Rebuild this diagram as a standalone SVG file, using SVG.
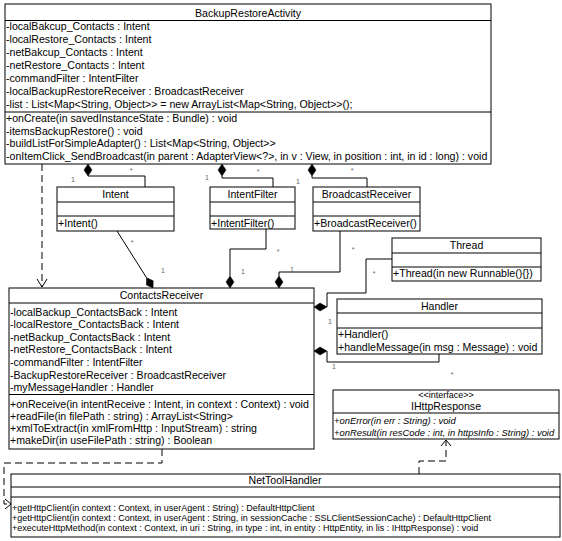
<svg xmlns="http://www.w3.org/2000/svg" width="562" height="541" viewBox="0 0 562 541">
<style>
.box{fill:#fff;stroke:#000;stroke-width:1}
.sep{stroke:#000;stroke-width:1}
.t{font-family:"Liberation Sans",Arial,sans-serif;font-size:10.6px;fill:#000}
.ti{font-family:"Liberation Sans",Arial,sans-serif;font-size:10.6px;fill:#000;text-anchor:middle}
.sm{font-family:"Liberation Sans",Arial,sans-serif;font-size:9px;fill:#000}
.it{font-family:"Liberation Sans",Arial,sans-serif;font-size:9.4px;font-style:italic;fill:#000}
.lb{font-family:"Liberation Sans",Arial,sans-serif;font-size:7px;fill:#666;text-anchor:middle}
.ln{fill:none;stroke:#000;stroke-width:1}
.dash{fill:none;stroke:#000;stroke-width:1;stroke-dasharray:7,4}
.dia{fill:#000;stroke:#000;stroke-width:0.5}
</style>
<rect width="562" height="541" fill="#fff"/>
<g id="connectors">
  <path class="dash" d="M42,164 V287"/>
  <path class="ln" d="M37,279 L42,287 L47,279"/>
  <polygon class="dia" points="88,164 92,170 88,176 84,170"/>
  <path class="ln" d="M88,176 H145 V187"/>
  <polygon class="dia" points="222,164 226,170 222,176 218,170"/>
  <path class="ln" d="M222,176 V178 H273 V187"/>
  <polygon class="dia" points="312,164 316,170 312,176 308,170"/>
  <path class="ln" d="M312,176 V178 H367 V187"/>
  <path class="ln" d="M117,231 L146.6,277.8"/>
  <polygon class="dia" points="153,288 153.2,280.8 146.6,277.8 146.4,285"/>
  <path class="ln" d="M266,229 V249 H230 V276"/>
  <polygon class="dia" points="230,288 234,282 230,276 226,282"/>
  <path class="ln" d="M340,231 V272 H279 V276"/>
  <polygon class="dia" points="279,288 283,282 279,276 275,282"/>
  <path class="ln" d="M392,259 H366 V293 H327 V307"/>
  <polygon class="dia" points="314,307 320,303 327,307 320,311"/>
  <path class="ln" d="M327,351 V362 H439 V354"/>
  <polygon class="dia" points="314,351 320,347 327,351 320,355"/>
  <path class="dash" d="M162,449 V463 H4 V504 H10"/>
  <path class="ln" d="M5,499 L11,504 L5,509"/>
  <path class="dash" d="M419,474 V461 H446 V440"/>
  <path class="ln" d="M441,446 L446,440 L451,446"/>
  <text class="lb" x="73" y="182">1</text>
  <text class="lb" x="131" y="173">*</text>
  <text class="lb" x="207" y="180">1</text>
  <text class="lb" x="258" y="174">*</text>
  <text class="lb" x="298" y="184">1</text>
  <text class="lb" x="352" y="173">*</text>
  <text class="lb" x="132" y="245">*</text>
  <text class="lb" x="163" y="273">1</text>
  <text class="lb" x="278" y="254">*</text>
  <text class="lb" x="243" y="274">1</text>
  <text class="lb" x="353" y="252">*</text>
  <text class="lb" x="292" y="272">1</text>
  <text class="lb" x="374" y="276">*</text>
  <text class="lb" x="330" y="324">1</text>
  <text class="lb" x="334" y="369">1</text>
  <text class="lb" x="452" y="377">*</text>
</g>
<g id="BackupRestoreActivity">
  <rect class="box" x="5" y="4" width="486" height="160"/>
  <line class="sep" x1="5" y1="20.5" x2="491" y2="20.5"/>
  <line class="sep" x1="5" y1="112" x2="491" y2="112"/>
  <text class="ti" x="248" y="17">BackupRestoreActivity</text>
  <text class="t" x="6" y="29.5">-localBakcup_Contacts : Intent</text>
  <text class="t" x="6" y="42.5">-localRestore_Contacts : Intent</text>
  <text class="t" x="6" y="55.5">-netBakcup_Contacts : Intent</text>
  <text class="t" x="6" y="68.5">-netRestore_Contacts : Intent</text>
  <text class="t" x="6" y="81.5">-commandFilter : IntentFilter</text>
  <text class="t" x="6" y="94.5">-localBackupRestoreReceiver : BroadcastReceiver</text>
  <text class="t" x="6" y="107.5">-list : List&lt;Map&lt;String, Object&gt;&gt; = new ArrayList&lt;Map&lt;String, Object&gt;&gt;();</text>
  <text class="t" x="6" y="122">+onCreate(in savedInstanceState : Bundle) : void</text>
  <text class="t" x="6" y="134.5">-itemsBackupRestore() : void</text>
  <text class="t" x="6" y="147">-buildListForSimpleAdapter() : List&lt;Map&lt;String, Object&gt;&gt;</text>
  <text class="t" x="6" y="159.5">-onItemClick_SendBroadcast(in parent : AdapterView&lt;?&gt;, in v : View, in position : int, in id : long) : void</text>
</g>
<g id="Intent">
  <rect class="box" x="57" y="187" width="117" height="44"/>
  <line class="sep" x1="57" y1="202" x2="174" y2="202"/>
  <line class="sep" x1="57" y1="216" x2="174" y2="216"/>
  <text class="ti" x="115.5" y="198">Intent</text>
  <text class="t" x="58" y="227">+Intent()</text>
</g>
<g id="IntentFilter">
  <rect class="box" x="210" y="187" width="85" height="42"/>
  <line class="sep" x1="210" y1="202" x2="295" y2="202"/>
  <line class="sep" x1="210" y1="216" x2="295" y2="216"/>
  <text class="ti" x="252.5" y="198">IntentFilter</text>
  <text class="t" x="211" y="227">+IntentFilter()</text>
</g>
<g id="BroadcastReceiver">
  <rect class="box" x="313" y="187" width="107" height="44"/>
  <line class="sep" x1="313" y1="202" x2="420" y2="202"/>
  <line class="sep" x1="313" y1="216" x2="420" y2="216"/>
  <text class="ti" x="366.5" y="198">BroadcastReceiver</text>
  <text class="t" x="314" y="227">+BroadcastReceiver()</text>
</g>
<g id="Thread">
  <rect class="box" x="392" y="238" width="149" height="43"/>
  <line class="sep" x1="392" y1="253" x2="541" y2="253"/>
  <line class="sep" x1="392" y1="267" x2="541" y2="267"/>
  <text class="ti" x="466.5" y="249">Thread</text>
  <text class="t" x="393" y="277">+Thread(in new Runnable(){})</text>
</g>
<g id="ContactsReceiver">
  <rect class="box" x="9" y="288" width="305" height="161"/>
  <line class="sep" x1="9" y1="303" x2="314" y2="303"/>
  <line class="sep" x1="9" y1="394.5" x2="314" y2="394.5"/>
  <text class="ti" x="161.5" y="299">ContactsReceiver</text>
  <text class="t" x="10" y="315.5">-localBackup_ContactsBack : Intent</text>
  <text class="t" x="10" y="328">-localRestore_ContactsBack : Intent</text>
  <text class="t" x="10" y="340.7">-netBackup_ContactsBack : Intent</text>
  <text class="t" x="10" y="353.3">-netRestore_ContactsBack : Intent</text>
  <text class="t" x="10" y="366">-commandFilter : IntentFilter</text>
  <text class="t" x="10" y="378.5">-BackupRestoreReceiver : BroadcastReceiver</text>
  <text class="t" x="10" y="391">-myMessageHandler : Handler</text>
  <text class="t" x="10" y="408">+onReceive(in intentReceive : Intent, in context : Context) : void</text>
  <text class="t" x="10" y="420">+readFile(in filePath : string) : ArrayList&lt;String&gt;</text>
  <text class="t" x="10" y="432">+xmlToExtract(in xmlFromHttp : InputStream) : string</text>
  <text class="t" x="10" y="444">+makeDir(in useFilePath : string) : Boolean</text>
</g>
<g id="Handler">
  <rect class="box" x="337" y="299" width="205" height="55"/>
  <line class="sep" x1="337" y1="313" x2="542" y2="313"/>
  <line class="sep" x1="337" y1="328" x2="542" y2="328"/>
  <text class="ti" x="439.5" y="310">Handler</text>
  <text class="t" x="338" y="338">+Handler()</text>
  <text class="t" x="338" y="351">+handleMessage(in msg : Message) : void</text>
</g>
<g id="IHttpResponse">
  <rect class="box" x="333" y="390" width="226" height="49"/>
  <line class="sep" x1="333" y1="413" x2="559" y2="413"/>
  <text class="sm" x="446" y="398" text-anchor="middle" font-size="8">&lt;&lt;interface&gt;&gt;</text>
  <text class="ti" x="446" y="410" font-size="10">IHttpResponse</text>
  <text class="it" x="334" y="424">+onError(in err : String) : void</text>
  <text class="it" x="334" y="436">+onResult(in resCode : int, in httpsInfo : String) : void</text>
</g>
<g id="NetToolHandler">
  <rect class="box" x="11" y="474" width="549" height="63"/>
  <line class="sep" x1="11" y1="487" x2="560" y2="487"/>
  <line class="sep" x1="11" y1="497" x2="560" y2="497"/>
  <text class="ti" x="285" y="484">NetToolHandler</text>
  <text class="sm" x="12" y="511">+getHttpClient(in context : Context, in userAgent : String) : DefaultHttpClient</text>
  <text class="sm" x="12" y="521">+getHttpClient(in context : Context, in userAgent : String, in sessionCache : SSLClientSessionCache) : DefaultHttpClient</text>
  <text class="sm" x="12" y="531">+executeHttpMethod(in context : Context, in uri : String, in type : int, in entity : HttpEntity, in lis : IHttpResponse) : void</text>
</g>
</svg>
